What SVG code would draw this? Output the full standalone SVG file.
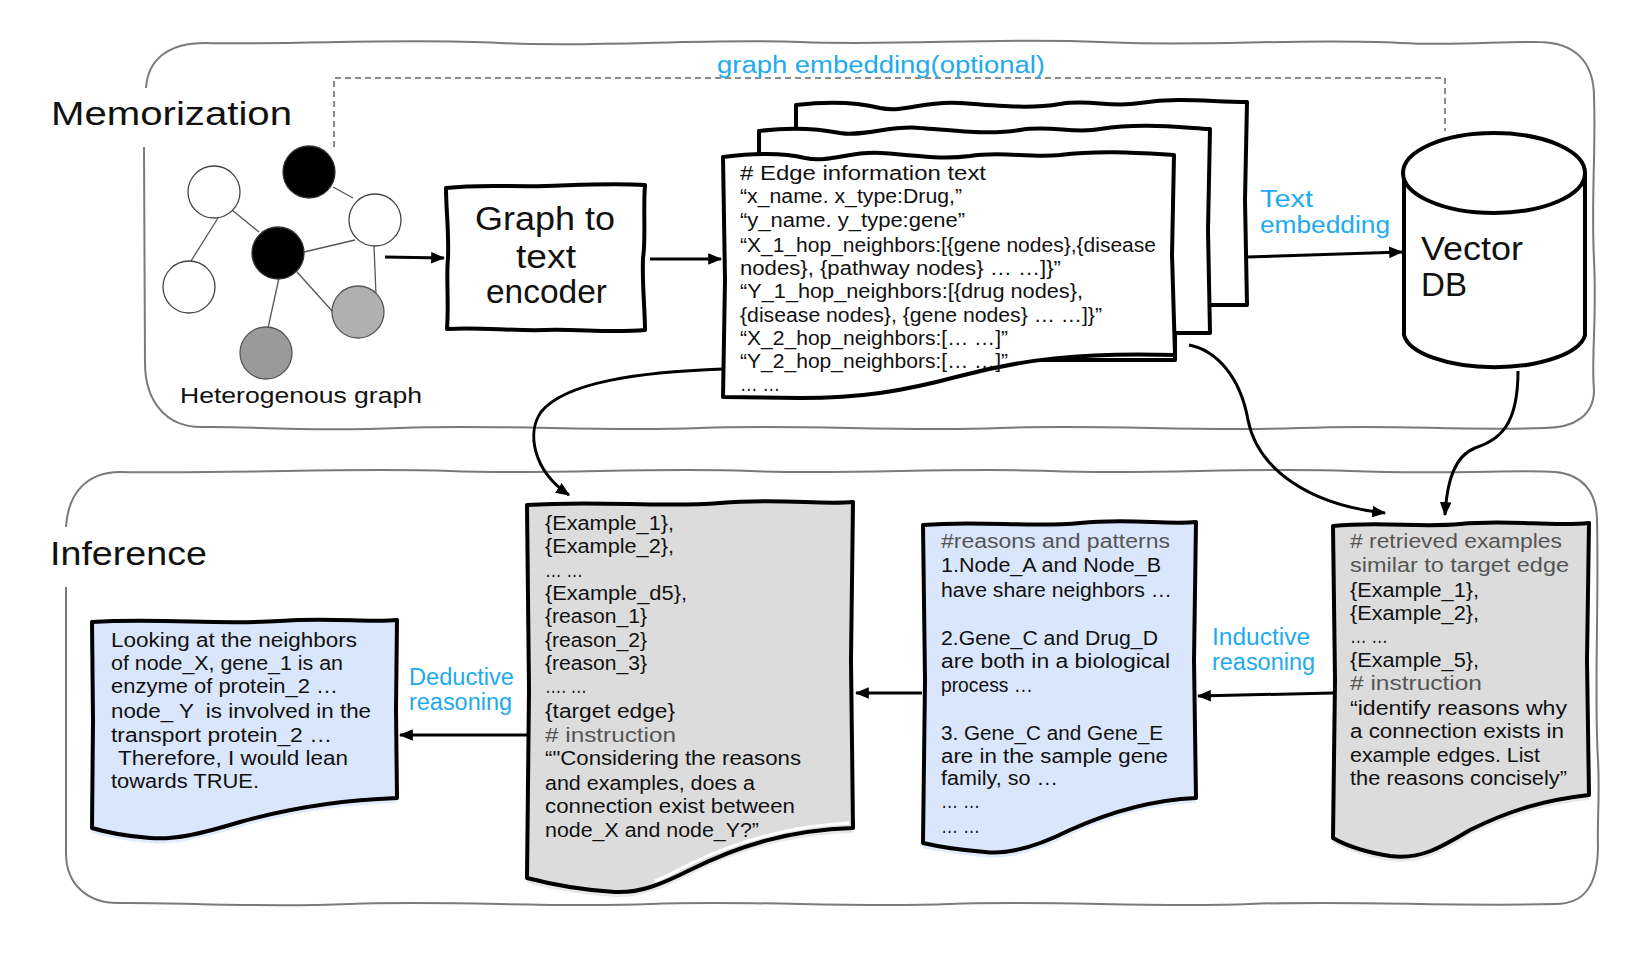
<svg xmlns="http://www.w3.org/2000/svg" width="1648" height="964" viewBox="0 0 1648 964">
<style>
.t{font-family:"Liberation Sans",Arial,sans-serif;fill:#111}
.d{font-size:20px}
.c{fill:#555}
.b{fill:#1eaaf0;font-size:23px}
.big{font-size:33px}
.frame{fill:none;stroke:#7a7a7a;stroke-width:2}
.doc{stroke:#000;stroke-width:4;stroke-linejoin:round}
.ar{fill:none;stroke:#000;stroke-width:3}
.ge{stroke:#555;stroke-width:1.3}
.shb{fill:#d3e2fa;opacity:.7}
.shg{fill:#e2e2e2;opacity:.8}
</style>
<defs>
<marker id="ah" viewBox="0 0 12 10" refX="11" refY="5" markerWidth="14" markerHeight="12" markerUnits="userSpaceOnUse" orient="auto">
<path d="M0,0 L12,5 L0,10 Z" fill="#000"/>
</marker>
</defs>
<rect width="1648" height="964" fill="#fff"/>

<g id="memorization-frame">
<path class="frame" d="M146,88 C148,58 170,43 205,43 C300,45 400,38 500,43 C600,48 700,38 800,42 C900,46 1000,37 1100,42 C1200,47 1300,38 1400,43 C1460,46 1500,41 1538,42 C1575,42 1594,62 1594,97 C1596,150 1591,200 1594,260 C1597,320 1591,360 1594,390 C1594,415 1575,428 1544,428 C1450,431 1400,424 1300,428 C1200,432 1100,424 1000,428 C900,432 800,424 700,428 C600,432 500,424 400,428 C300,432 250,426 201,427 C165,427 145,400 145,363 L144,147"/>
<text class="t big" x="51" y="125" textLength="241" lengthAdjust="spacingAndGlyphs">Memorization</text>
</g>

<g id="inference-frame">
<path class="frame" d="M66,527 C68,492 88,472 120,472 C250,474 350,467 450,471 C550,475 650,467 750,471 C850,475 950,467 1050,471 C1150,475 1250,467 1350,471 C1450,475 1520,469 1555,472 C1582,474 1597,492 1597,520 C1599,600 1594,700 1598,760 C1600,800 1597,820 1598,845 C1598,885 1585,904 1555,904 C1450,907 1350,900 1250,904 C1150,908 1050,900 950,904 C850,908 750,900 650,904 C550,908 450,900 350,904 C250,908 180,902 118,903 C88,903 66,885 66,853 L66,587"/>
<text class="t big" x="50" y="565" textLength="157" lengthAdjust="spacingAndGlyphs">Inference</text>
</g>

<g id="connectors">
<path d="M334,147 L334,78 L1445,78 L1445,131" fill="none" stroke="#666" stroke-width="1.5" stroke-dasharray="6,4"/>
<path class="ar" d="M385,257 L444,258" marker-end="url(#ah)"/>
<path class="ar" d="M650,259 L721,259" marker-end="url(#ah)"/>
<path class="ar" d="M1247,257 L1402,252" marker-end="url(#ah)"/>
<path class="ar" d="M1189,345 C1215,350 1240,375 1248,420 C1258,470 1310,505 1385,513" marker-end="url(#ah)"/>
<path class="ar" d="M1518,371 C1518,425 1500,440 1475,448 C1455,456 1447,480 1445,515" marker-end="url(#ah)"/>
<path class="ar" d="M723,369 C640,372 565,382 541,412 C527,432 532,470 569,495" marker-end="url(#ah)"/>
<path class="ar" d="M1333,693 L1198,696" marker-end="url(#ah)"/>
<path class="ar" d="M922,693 L856,693" marker-end="url(#ah)"/>
<path class="ar" d="M527,735 L400,735" marker-end="url(#ah)"/>
<text class="t b" x="717" y="73" font-size="25" textLength="328" lengthAdjust="spacingAndGlyphs">graph embedding(optional)</text>
<text class="t b" x="1260" y="207" textLength="53" lengthAdjust="spacingAndGlyphs">Text</text>
<text class="t b" x="1260" y="233" textLength="130" lengthAdjust="spacingAndGlyphs">embedding</text>
<text class="t b" x="1212" y="645" textLength="98" lengthAdjust="spacingAndGlyphs">Inductive</text>
<text class="t b" x="1212" y="670" textLength="103" lengthAdjust="spacingAndGlyphs">reasoning</text>
<text class="t b" x="409" y="685" textLength="105" lengthAdjust="spacingAndGlyphs">Deductive</text>
<text class="t b" x="409" y="710" textLength="103" lengthAdjust="spacingAndGlyphs">reasoning</text>
</g>

<g id="heterogenous-graph">
<line class="ge" x1="218" y1="218" x2="191" y2="261"/>
<line class="ge" x1="232" y1="210" x2="259" y2="232"/>
<line class="ge" x1="333" y1="187" x2="353" y2="198"/>
<line class="ge" x1="304" y1="252" x2="355" y2="240"/>
<line class="ge" x1="279" y1="278" x2="268" y2="328"/>
<line class="ge" x1="297" y1="272" x2="333" y2="312"/>
<line class="ge" x1="374" y1="246" x2="376" y2="295"/>
<ellipse cx="214" cy="192" rx="26" ry="26" fill="#fff" stroke="#444" stroke-width="1.3"/>
<ellipse cx="309" cy="172" rx="26" ry="26" fill="#000" stroke="#333" stroke-width="1.3"/>
<ellipse cx="375" cy="220" rx="26" ry="26" fill="#fff" stroke="#444" stroke-width="1.3"/>
<ellipse cx="278" cy="253" rx="26" ry="26" fill="#000" stroke="#333" stroke-width="1.3"/>
<ellipse cx="189" cy="287" rx="26" ry="26" fill="#fff" stroke="#444" stroke-width="1.3"/>
<ellipse cx="358" cy="312" rx="26" ry="26" fill="#b0b0b0" stroke="#555" stroke-width="1.3"/>
<ellipse cx="266" cy="353" rx="26" ry="26" fill="#9a9a9a" stroke="#555" stroke-width="1.3"/>
<text class="t" x="180" y="403" font-size="22" textLength="242" lengthAdjust="spacingAndGlyphs">Heterogenous graph</text>
</g>

<g id="graph-to-text-encoder">
<path class="doc" fill="#fff" d="M446,188 C480,184 510,187 545,186 C580,185 610,183 645,185 C643,210 646,240 643,258 C642,285 645,310 645,330 C610,333 580,329 545,330 C510,331 480,327 447,329 C449,300 446,280 448,258 C449,230 446,210 446,188 Z"/>
<text class="t big" x="475" y="230" font-size="32" textLength="140" lengthAdjust="spacingAndGlyphs">Graph to</text>
<text class="t big" x="516" y="268" font-size="32" textLength="60" lengthAdjust="spacingAndGlyphs">text</text>
<text class="t big" x="486" y="303" font-size="32" textLength="121" lengthAdjust="spacingAndGlyphs">encoder</text>
</g>

<g id="edge-info-docs">
<path class="doc" fill="#fff" d="M796,105 C830,101 860,103 880,108 C905,113 925,100 960,103 C1000,106 1030,109 1060,104 C1090,99 1110,108 1140,103 C1180,97 1210,102 1247,102 L1245,200 L1247,305 L1175,305 L1175,340 L796,340 Z"/>
<path class="doc" fill="#fff" d="M759,131 C790,127 815,128 840,133 C865,137 890,125 920,128 C960,131 990,135 1020,130 C1050,125 1075,134 1100,129 C1140,123 1175,127 1210,129 L1208,230 L1210,333 L1175,333 L1175,360 L759,360 Z"/>
<path class="doc" fill="#fff" d="M723,157 C755,153 785,153 805,158 C830,163 850,151 880,153 C915,155 940,160 970,156 C1000,151 1030,158 1060,155 C1100,150 1140,153 1174,155 L1172,255 L1175,355 C1080,352 1020,360 960,376 C900,392 860,398 800,398 L723,397 L725,280 Z"/>
<text class="t d" x="740" y="180" textLength="246" lengthAdjust="spacingAndGlyphs"># Edge information text</text>
<text class="t d" x="740" y="203" textLength="222" lengthAdjust="spacingAndGlyphs">“x_name. x_type:Drug,”</text>
<text class="t d" x="740" y="227" textLength="225" lengthAdjust="spacingAndGlyphs">“y_name. y_type:gene”</text>
<text class="t d" x="740" y="252" textLength="416" lengthAdjust="spacingAndGlyphs">“X_1_hop_neighbors:[{gene nodes},{disease</text>
<text class="t d" x="740" y="275" textLength="321" lengthAdjust="spacingAndGlyphs">nodes}, {pathway nodes} … …]}”</text>
<text class="t d" x="740" y="298" textLength="343" lengthAdjust="spacingAndGlyphs">“Y_1_hop_neighbors:[{drug nodes},</text>
<text class="t d" x="740" y="322" textLength="362" lengthAdjust="spacingAndGlyphs">{disease nodes}, {gene nodes} … …]}”</text>
<text class="t d" x="740" y="345" textLength="268" lengthAdjust="spacingAndGlyphs">“X_2_hop_neighbors:[… …]”</text>
<text class="t d" x="740" y="368" textLength="268" lengthAdjust="spacingAndGlyphs">“Y_2_hop_neighbors:[… …]”</text>
<text class="t d" x="740" y="391" textLength="40" lengthAdjust="spacingAndGlyphs">… …</text>
</g>

<g id="vector-db">
<path class="doc" fill="#fff" d="M1404,173 L1404,335 A91,36 0 0 0 1585,335 L1585,173"/>
<ellipse class="doc" cx="1494" cy="173" rx="91" ry="40" fill="#fff"/>
<text class="t big" x="1421" y="260" font-size="32" textLength="102" lengthAdjust="spacingAndGlyphs">Vector</text>
<text class="t big" x="1421" y="296" font-size="32" textLength="46" lengthAdjust="spacingAndGlyphs">DB</text>
</g>

<g id="retrieved-doc">
<path class="shg" transform="translate(0,5)" d="M1333,526 L1589,523 L1589,795 C1545,800 1510,810 1470,830 C1440,848 1420,860 1390,856 C1365,852 1345,845 1333,838 Z"/>
<path class="doc" fill="#dcdcdc" d="M1333,526 C1380,521 1420,528 1460,524 C1510,519 1550,527 1589,523 L1587,660 L1589,795 C1545,800 1510,810 1470,830 C1440,848 1420,860 1390,856 C1365,852 1345,845 1333,838 L1335,680 Z"/>
<text class="t d c" x="1350" y="548" textLength="212" lengthAdjust="spacingAndGlyphs"># retrieved examples</text>
<text class="t d c" x="1350" y="572" textLength="219" lengthAdjust="spacingAndGlyphs">similar to target edge</text>
<text class="t d" x="1350" y="597" textLength="129" lengthAdjust="spacingAndGlyphs">{Example_1},</text>
<text class="t d" x="1350" y="620" textLength="129" lengthAdjust="spacingAndGlyphs">{Example_2},</text>
<text class="t d" x="1350" y="643" textLength="38" lengthAdjust="spacingAndGlyphs">… …</text>
<text class="t d" x="1350" y="667" textLength="129" lengthAdjust="spacingAndGlyphs">{Example_5},</text>
<text class="t d c" x="1350" y="690" textLength="132" lengthAdjust="spacingAndGlyphs"># instruction</text>
<text class="t d" x="1350" y="715" textLength="217" lengthAdjust="spacingAndGlyphs">“identify reasons why</text>
<text class="t d" x="1350" y="738" textLength="214" lengthAdjust="spacingAndGlyphs">a connection exists in</text>
<text class="t d" x="1350" y="762" textLength="190" lengthAdjust="spacingAndGlyphs">example edges. List</text>
<text class="t d" x="1350" y="785" textLength="217" lengthAdjust="spacingAndGlyphs">the reasons concisely”</text>
</g>

<g id="reasons-doc">
<path class="shb" transform="translate(0,5)" d="M923,525 L1196,522 L1196,798 C1150,800 1110,812 1070,830 C1040,845 1010,855 985,852 C960,850 940,847 923,843 Z"/>
<path class="doc" fill="#d9e6fb" d="M923,525 C980,520 1030,528 1080,523 C1130,518 1165,525 1196,522 L1194,660 L1196,798 C1150,800 1110,812 1070,830 C1040,845 1010,855 985,852 C960,850 940,847 923,843 L925,680 Z"/>
<text class="t d c" x="941" y="548" textLength="229" lengthAdjust="spacingAndGlyphs">#reasons and patterns</text>
<text class="t d" x="941" y="572" textLength="220" lengthAdjust="spacingAndGlyphs">1.Node_A and Node_B</text>
<text class="t d" x="941" y="597" textLength="231" lengthAdjust="spacingAndGlyphs">have share neighbors …</text>
<text class="t d" x="941" y="645" textLength="217" lengthAdjust="spacingAndGlyphs">2.Gene_C and Drug_D</text>
<text class="t d" x="941" y="668" textLength="229" lengthAdjust="spacingAndGlyphs">are both in a biological</text>
<text class="t d" x="941" y="692" textLength="92" lengthAdjust="spacingAndGlyphs">process …</text>
<text class="t d" x="941" y="740" textLength="222" lengthAdjust="spacingAndGlyphs">3. Gene_C and Gene_E</text>
<text class="t d" x="941" y="763" textLength="227" lengthAdjust="spacingAndGlyphs">are in the sample gene</text>
<text class="t d" x="941" y="785" textLength="117" lengthAdjust="spacingAndGlyphs">family, so …</text>
<text class="t d" x="941" y="808" textLength="39" lengthAdjust="spacingAndGlyphs">… …</text>
<text class="t d" x="941" y="833" textLength="39" lengthAdjust="spacingAndGlyphs">… …</text>
</g>

<g id="prompt-doc">
<path class="shg" transform="translate(0,5)" d="M527,505 L853,502 L853,828 C790,830 740,845 690,870 C660,885 640,893 615,892 C580,890 550,884 527,878 Z"/>
<path class="doc" fill="#dcdcdc" d="M527,505 C600,500 660,508 720,503 C780,498 820,505 853,502 L851,660 L853,828 C790,830 740,845 690,870 C660,885 640,893 615,892 C580,890 550,884 527,878 L529,690 Z"/>
<path d="M655,881 C670,875 680,869 692,863 C740,840 790,826 849,823" fill="none" stroke="#fff" stroke-width="3"/>
<text class="t d" x="545" y="530" textLength="129" lengthAdjust="spacingAndGlyphs">{Example_1},</text>
<text class="t d" x="545" y="553" textLength="129" lengthAdjust="spacingAndGlyphs">{Example_2},</text>
<text class="t d" x="545" y="577" textLength="38" lengthAdjust="spacingAndGlyphs">… …</text>
<text class="t d" x="545" y="600" textLength="142" lengthAdjust="spacingAndGlyphs">{Example_d5},</text>
<text class="t d" x="545" y="623" textLength="102" lengthAdjust="spacingAndGlyphs">{reason_1}</text>
<text class="t d" x="545" y="647" textLength="102" lengthAdjust="spacingAndGlyphs">{reason_2}</text>
<text class="t d" x="545" y="670" textLength="102" lengthAdjust="spacingAndGlyphs">{reason_3}</text>
<text class="t d" x="545" y="693" textLength="42" lengthAdjust="spacingAndGlyphs">…. …</text>
<text class="t d" x="545" y="718" textLength="130" lengthAdjust="spacingAndGlyphs">{target edge}</text>
<text class="t d c" x="545" y="742" textLength="131" lengthAdjust="spacingAndGlyphs"># instruction</text>
<text class="t d" x="545" y="765" textLength="256" lengthAdjust="spacingAndGlyphs">“"Considering the reasons</text>
<text class="t d" x="545" y="790" textLength="210" lengthAdjust="spacingAndGlyphs">and examples, does a</text>
<text class="t d" x="545" y="813" textLength="250" lengthAdjust="spacingAndGlyphs">connection exist between</text>
<text class="t d" x="545" y="837" textLength="214" lengthAdjust="spacingAndGlyphs">node_X and node_Y?”</text>
</g>

<g id="answer-doc">
<path class="shb" transform="translate(0,5)" d="M92,622 L397,620 L397,798 C340,800 290,808 240,822 C200,834 175,840 150,838 C125,836 105,832 92,828 Z"/>
<path class="doc" fill="#d9e6fb" d="M92,622 C160,618 220,625 280,621 C330,617 370,623 397,620 L396,710 L397,798 C340,800 290,808 240,822 C200,834 175,840 150,838 C125,836 105,832 92,828 L93,720 Z"/>
<text class="t d" x="111" y="647" textLength="246" lengthAdjust="spacingAndGlyphs">Looking at the neighbors</text>
<text class="t d" x="111" y="670" textLength="232" lengthAdjust="spacingAndGlyphs">of node_X, gene_1 is an</text>
<text class="t d" x="111" y="693" textLength="227" lengthAdjust="spacingAndGlyphs">enzyme of protein_2 …</text>
<text class="t d" x="111" y="718" textLength="260" lengthAdjust="spacingAndGlyphs" xml:space="preserve">node_ Y  is involved in the</text>
<text class="t d" x="111" y="742" textLength="221" lengthAdjust="spacingAndGlyphs">transport protein_2 …</text>
<text class="t d" x="118" y="765" textLength="230" lengthAdjust="spacingAndGlyphs">Therefore, I would lean</text>
<text class="t d" x="111" y="788" textLength="148" lengthAdjust="spacingAndGlyphs">towards TRUE.</text>
</g>
</svg>
